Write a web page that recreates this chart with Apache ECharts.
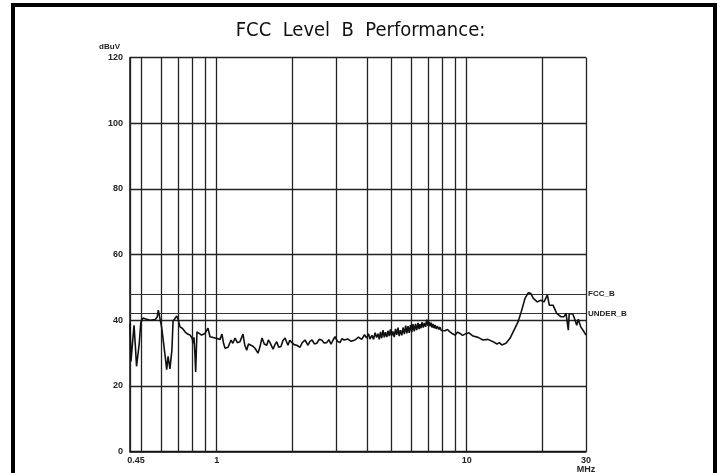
<!DOCTYPE html>
<html>
<head>
<meta charset="utf-8">
<script src="https://cdn.jsdelivr.net/npm/echarts@6/dist/echarts.min.js"></script>
<style>
  html, body { margin: 0; padding: 0; background: #fff; }
  #chart { width: 721px; height: 473px; }
</style>
</head>
<body>
<div id="chart"></div>
<script>
// measured trace: frequency (MHz) and level (dBuV)
var freqs = [
  0.45, 0.454, 0.46, 0.467, 0.472, 0.478, 0.483, 0.49, 0.497, 0.507, 0.517, 0.541, 0.567, 0.578, 0.584, 0.593,
  0.602, 0.62, 0.631, 0.639, 0.645, 0.65, 0.662, 0.669, 0.68, 0.692, 0.70, 0.713, 0.73, 0.747, 0.765, 0.782,
  0.797, 0.805, 0.811, 0.818, 0.824, 0.83, 0.834, 0.842, 0.87, 0.898, 0.923, 0.94, 0.985, 1.031, 1.05, 1.065,
  1.08, 1.11, 1.141, 1.16, 1.184, 1.21, 1.239, 1.274, 1.295, 1.318, 1.34, 1.359, 1.39, 1.423, 1.463, 1.49, 1.518,
  1.55, 1.585, 1.61, 1.634, 1.68, 1.71, 1.738, 1.77, 1.808, 1.84, 1.876, 1.928, 1.96, 1.996, 2.04, 2.09, 2.154,
  2.2, 2.255, 2.318, 2.36, 2.406, 2.46, 2.512, 2.57, 2.63, 2.69, 2.754, 2.81, 2.866, 2.92, 2.973, 3.04, 3.113,
  3.17, 3.23, 3.29, 3.351, 3.45, 3.574, 3.69, 3.803, 3.90, 3.982, 4.05, 4.10, 4.18, 4.24, 4.30, 4.36, 4.418,
  4.47, 4.52, 4.57, 4.626, 4.68, 4.73, 4.79, 4.843, 4.90, 4.95, 5.01, 5.072, 5.13, 5.19, 5.25, 5.31, 5.37,
  5.43, 5.50, 5.562, 5.63, 5.70, 5.76, 5.823, 5.89, 5.96, 6.03, 6.097, 6.17, 6.24, 6.31, 6.385, 6.45, 6.50,
  6.56, 6.624, 6.70, 6.77, 6.85, 6.921, 6.99, 7.06, 7.13, 7.20, 7.27, 7.33, 7.40, 7.47, 7.55, 7.64, 7.73,
  7.82, 7.91, 8.0, 8.19, 8.38, 8.57, 8.78, 8.98, 9.2, 9.40, 9.62, 9.85, 10.21, 10.6, 11.1, 11.62,
  12.17, 12.74, 13.22, 13.5, 13.81, 14.36, 14.9, 15.46, 16.04, 16.6, 17.11, 17.64, 18.03, 18.47, 19.16, 19.77,
  20.38, 21.01, 21.4, 22.14, 22.91, 23.77, 24.5, 24.96, 25.3, 25.49, 25.7, 25.89, 26.55, 27.12, 27.54, 27.95,
  28.58, 29.46, 30
];
var levels = [
  39, 27.5, 28, 38.5, 33, 26, 26.5, 33, 39.2, 40.7, 40.5, 40, 40.2, 41, 43.1, 40.5,
  38, 30, 25, 29, 27, 25.2, 31, 39.8, 40.5, 41.3, 40.5, 38, 37.5, 36.5, 35.8, 35.5,
  34.6, 33, 34.8, 30, 24.3, 32, 36.5, 36.2, 35.5, 36, 37.6, 35, 34.6, 34.2, 35.8, 33,
  31.5, 31.8, 34, 33, 34.6, 33.2, 33.5, 35.8, 32.5, 30.9, 32.8, 33.1, 32.2, 31.5, 30, 32, 34.6,
  32.8, 32.4, 34, 33.2, 31.2, 32.6, 33.5, 31.8, 32, 33.8, 34.6, 32.4, 33.9, 33.5, 32.6, 32.4, 31.8,
  33.2, 34, 32.4, 33.6, 34, 32.8, 33, 34.2, 34, 33.1, 33.2, 34.1, 32.7, 34, 35, 33.6, 33.2,
  34.4, 34, 33.4, 34.3, 33.6, 34, 34.9, 34.2, 35.6, 34.6, 35.9, 34.3, 35.4, 34.2, 36.2, 34.8, 35.9,
  34.2, 36.5, 34.6, 37, 34.8, 36.4, 34.9, 36.8, 35.2, 37.2, 35.3, 36.6, 34.9, 37.4, 35.6, 37.8, 35.2,
  37, 35.4, 37.8, 35.8, 38.4, 36, 38.2, 36.2, 38.6, 36.4, 38.8, 36.6, 38.9, 37, 39.2, 37.3, 38.8,
  37.6, 39.4, 37.8, 39.2, 38, 40.2, 38.4, 39.6, 38.2, 39.3, 37.8, 38.9, 37.6, 38.6, 37.4, 38.2, 37.2,
  37.9, 36.9, 37.3, 36.8, 37.2, 36.5, 35.9, 35.5, 36.4, 36, 35.4, 35.8, 36.2, 35.2, 34.8, 34,
  34.2, 33.5, 32.8, 33.2, 32.5, 33, 34.5, 37, 39.5, 43.1, 46.7, 48.4, 48.2, 46.7, 45.6, 46.1,
  45.6, 47.7, 44.6, 44.6, 42.1, 41.1, 41.1, 42.1, 42, 37, 42, 42.1, 42, 40.1, 38.5, 40.3,
  38, 36.5, 35.5
];

// vertical grid lines (MHz) and the few that carry a label
var freqGrid = [0.45, 0.5, 0.6, 0.7, 0.8, 0.9, 1, 2, 3, 4, 5, 6, 7, 8, 9, 10, 20, 30];
var freqLabels = { 0.45: '0.45', 1: '1', 10: '10', 30: '30\nMHz' };

// limit lines
var limitNames = ['FCC_B', 'UNDER_B'];
var limitValues = [48, 42];

var textFont = "'Liberation Sans', Arial, sans-serif";

var chart = echarts.init(document.getElementById('chart'));

var trace = [];
for (var i = 0; i < freqs.length; i++) {
  trace.push([freqs[i], levels[i]]);
}

var vLines = freqGrid.map(function (f) {
  var lbl = freqLabels[f];
  return {
    xAxis: f,
    label: {
      show: !!lbl,
      position: 'start',
      formatter: lbl || '',
      distance: 4,
      offset: f === 0.45 ? [6, 0] : [0, 0]
    }
  };
});

var hLines = limitNames.map(function (n, k) {
  return { yAxis: limitValues[k], name: n, label: { show: true, position: 'end', formatter: n, distance: 2 } };
});

chart.setOption({
  animation: false,
  backgroundColor: '#fff',
  title: {
    text: 'FCC  Level  B  Performance:',
    left: 'center',
    top: 16,
    textStyle: {
      fontFamily: "'Liberation Sans Narrow', 'DejaVu Sans Condensed', sans-serif",
      fontSize: 20,
      fontWeight: 'normal',
      color: '#111'
    }
  },
  graphic: [{
    type: 'rect',
    shape: { x: 13, y: 5, width: 702, height: 480 },
    style: { fill: 'none', stroke: '#000', lineWidth: 4 },
    silent: true
  }],
  grid: { left: 130, right: 135, top: 57.5, bottom: 21.3, containLabel: false },
  xAxis: {
    type: 'log',
    logBase: 10,
    min: 0.45,
    max: 30,
    axisLine: { show: true, lineStyle: { color: '#111', width: 1.5 } },
    axisTick: { show: false },
    axisLabel: { show: false },
    splitLine: { show: false }
  },
  yAxis: {
    type: 'value',
    min: 0,
    max: 120,
    interval: 20,
    name: 'dBuV',
    nameLocation: 'end',
    nameGap: 7,
    nameTextStyle: {
      fontFamily: textFont, fontSize: 8, fontWeight: 'bold', color: '#222',
      align: 'right', padding: [0, 10, 0, 0]
    },
    axisLine: { show: true, lineStyle: { color: '#111', width: 1.5 } },
    axisTick: { show: false },
    axisLabel: { fontFamily: textFont, fontSize: 9, fontWeight: 'bold', color: '#222', margin: 7 },
    splitLine: { show: true, lineStyle: { color: '#222', width: 1.3 } }
  },
  series: [{
    type: 'line',
    data: trace,
    showSymbol: false,
    symbol: 'none',
    lineStyle: { color: '#111', width: 1.6 },
    z: 5,
    markLine: {
      silent: true,
      symbol: 'none',
      animation: false,
      lineStyle: { color: '#222', width: 1.3, type: 'solid' },
      label: { fontFamily: textFont, fontSize: 9, fontWeight: 'bold', color: '#222' },
      data: vLines
    }
  }, {
    type: 'line',
    data: [],
    markLine: {
      silent: true,
      symbol: 'none',
      animation: false,
      lineStyle: { color: '#333', width: 1.1, type: 'solid' },
      label: { fontFamily: textFont, fontSize: 8, fontWeight: 'bold', color: '#222' },
      data: hLines
    }
  }]
});
</script>
</body>
</html>
